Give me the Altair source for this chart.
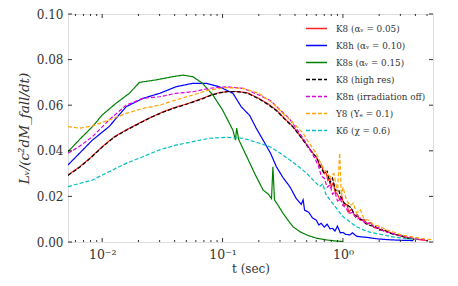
import altair as alt
import pandas as pd

# ---------------- data ----------------
series_names = ["K8 (αᵥ = 0.05)", "K8h (αᵥ = 0.10)", "K8s (αᵥ = 0.15)", "K8 (high res)",
                "K8n (irradiation off)", "Y8 (Yₑ = 0.1)", "K6 (χ = 0.6)"]
series_colors = ["#ff2020", "#0000ff", "#008000", "#000000", "#e000e0", "#ffa500", "#00bfbf"]
series_dash = [[1, 0], [1, 0], [1, 0], [4, 2], [4, 2], [4, 2], [4, 2]]

k8_t = [0.0052, 0.0065, 0.008, 0.01, 0.0125, 0.0156, 0.02, 0.025, 0.0316, 0.04, 0.05, 0.0681, 0.08, 0.094,
        0.11, 0.13, 0.16, 0.2, 0.24, 0.28, 0.33, 0.385, 0.45, 0.52, 0.565, 0.62, 0.64, 0.66, 0.7, 0.72, 0.75,
        0.78, 0.8, 0.83, 0.86, 0.9, 0.944, 0.98, 1.02, 1.08, 1.12, 1.18, 1.25, 1.32, 1.39, 1.5, 1.6, 1.7, 1.8,
        1.95, 2.1, 2.3, 2.5, 2.7, 3.0, 3.4, 3.9, 4.5, 5.1]
k8_v = [0.0294, 0.033, 0.037, 0.0418, 0.046, 0.049, 0.052, 0.0545, 0.057, 0.059, 0.0605, 0.063, 0.0645, 0.0655,
        0.066, 0.066, 0.0655, 0.063, 0.0605, 0.0579, 0.054, 0.0506, 0.046, 0.0415, 0.0389, 0.036, 0.033, 0.034,
        0.030, 0.031, 0.027, 0.028, 0.024, 0.026, 0.022, 0.021, 0.0184, 0.020, 0.016, 0.0165, 0.013, 0.0145,
        0.0115, 0.0120, 0.0096, 0.0098, 0.0078, 0.0085, 0.0064, 0.0060, 0.0052, 0.0048, 0.0040, 0.0034, 0.0026,
        0.0018, 0.0013, 0.0009, 0.0006]

k8hr_t = [0.0052, 0.0065, 0.008, 0.01, 0.0125, 0.0156, 0.02, 0.025, 0.0316, 0.04, 0.05, 0.0681, 0.08, 0.094,
          0.11, 0.13, 0.16, 0.2, 0.24, 0.28, 0.33, 0.385, 0.45, 0.52, 0.565, 0.6, 0.65, 0.7, 0.74, 0.78, 0.82,
          0.87, 0.92, 0.97, 1.03, 1.1, 1.17, 1.25, 1.35, 1.45, 1.55, 1.7, 1.85, 2.0, 2.2, 2.4, 2.7, 3.0, 3.4, 3.9]
k8hr_v = [0.0292, 0.0328, 0.0368, 0.0416, 0.0458, 0.0488, 0.0518, 0.0545, 0.0568, 0.0588, 0.0604, 0.0628,
          0.0643, 0.0654, 0.0659, 0.066, 0.0653, 0.0628, 0.0602, 0.0576, 0.0538, 0.0504, 0.0458, 0.0412, 0.0386,
          0.0375, 0.0330, 0.0300, 0.0310, 0.0260, 0.0280, 0.0225, 0.0230, 0.0190, 0.0170, 0.0160, 0.0150,
          0.0120, 0.0105, 0.0095, 0.0080, 0.0072, 0.0070, 0.0052, 0.0055, 0.0040, 0.0032, 0.0030, 0.0018, 0.0012]

k8h_t = [0.0052, 0.0065, 0.0083, 0.0114, 0.0158, 0.0218, 0.030, 0.041, 0.0567, 0.073, 0.094, 0.122, 0.143,
         0.168, 0.19, 0.217, 0.25, 0.28, 0.32, 0.362, 0.41, 0.45, 0.467, 0.48, 0.52, 0.56, 0.6, 0.63, 0.66, 0.7,
         0.74, 0.78, 0.82, 0.86, 0.9, 0.95, 1.0, 1.05, 1.14, 1.2, 1.3, 1.45, 1.6, 1.79, 2.0, 2.4, 2.9, 3.4, 3.85]
k8h_v = [0.0338, 0.039, 0.0447, 0.0506, 0.0593, 0.063, 0.0652, 0.0681, 0.0696, 0.0696, 0.0681, 0.0652, 0.0593,
         0.0555, 0.050, 0.0447, 0.039, 0.033, 0.028, 0.0243, 0.019, 0.0165, 0.0185, 0.014, 0.013, 0.0105, 0.0096,
         0.0075, 0.0082, 0.0065, 0.0078, 0.0058, 0.0060, 0.0048, 0.0070, 0.0040, 0.0042, 0.0034, 0.0031, 0.0040,
         0.0025, 0.0022, 0.0020, 0.0016, 0.0013, 0.0010, 0.0008, 0.0007, 0.0006]

k8s_t = [0.0052, 0.0065, 0.0083, 0.01, 0.013, 0.0168, 0.0204, 0.028, 0.0385, 0.0467, 0.0567, 0.0681, 0.083, 0.1,
         0.122, 0.128, 0.131, 0.136, 0.157, 0.185, 0.217, 0.24, 0.255, 0.262, 0.27, 0.29, 0.318, 0.35, 0.385,
         0.44, 0.5, 0.6, 0.73, 0.85, 1.0]
k8s_v = [0.0396, 0.045, 0.0506, 0.0557, 0.0608, 0.0652, 0.070, 0.0711, 0.0725, 0.0732, 0.0725, 0.0696, 0.0645,
         0.0579, 0.049, 0.0447, 0.050, 0.045, 0.038, 0.030, 0.0228, 0.021, 0.019, 0.033, 0.0184, 0.016, 0.0126,
         0.0095, 0.0067, 0.0045, 0.0031, 0.0017, 0.0009, 0.0005, 0.0002]

k8n_t = [0.0052, 0.0065, 0.0083, 0.0114, 0.0158, 0.0218, 0.030, 0.041, 0.0567, 0.078, 0.107, 0.148, 0.2, 0.25,
         0.3, 0.36, 0.42, 0.5, 0.58, 0.63, 0.66, 0.7, 0.74, 0.78, 0.82, 0.86, 0.9, 0.95, 1.0, 1.06, 1.12, 1.2,
         1.3, 1.4, 1.55, 1.7, 1.85, 2.0, 2.2, 2.5, 3.0, 3.5, 4.0, 5.0]
k8n_v = [0.0389, 0.042, 0.0462, 0.0535, 0.060, 0.063, 0.0637, 0.0652, 0.0659, 0.0674, 0.0681, 0.0674, 0.0645,
         0.062, 0.058, 0.054, 0.049, 0.043, 0.037, 0.033, 0.029, 0.028, 0.024, 0.025, 0.021, 0.022, 0.018, 0.019,
         0.016, 0.015, 0.0125, 0.013, 0.010, 0.0105, 0.008, 0.0085, 0.006, 0.0065, 0.0045, 0.0040, 0.0028, 0.0022,
         0.0015, 0.0008]

y8_t = [0.0052, 0.0065, 0.0083, 0.0114, 0.0158, 0.0218, 0.030, 0.041, 0.0567, 0.078, 0.107, 0.148, 0.2, 0.26,
        0.318, 0.39, 0.467, 0.53, 0.6, 0.66, 0.72, 0.78, 0.84, 0.9, 0.94, 0.97, 1.0, 1.07, 1.15, 1.22, 1.3,
        1.4, 1.5, 1.65, 1.8, 2.0, 2.3, 2.6, 3.0, 3.5, 4.2, 5.0, 5.5]
y8_v = [0.0506, 0.0499, 0.0509, 0.0535, 0.0564, 0.0586, 0.060, 0.0623, 0.0645, 0.0667, 0.0677, 0.0674, 0.0652,
        0.0610, 0.0564, 0.052, 0.0477, 0.043, 0.039, 0.034, 0.031, 0.0286, 0.030, 0.022, 0.039, 0.020, 0.024,
        0.0184, 0.016, 0.017, 0.0127, 0.014, 0.010, 0.0095, 0.0075, 0.0070, 0.0053, 0.0045, 0.0032, 0.0025,
        0.0018, 0.0012, 0.0010]

k6_t = [0.0052, 0.0083, 0.0114, 0.0158, 0.0218, 0.030, 0.041, 0.0567, 0.078, 0.107, 0.148, 0.203, 0.247, 0.3,
        0.362, 0.43, 0.5, 0.57, 0.64, 0.68, 0.72, 0.78, 0.85, 0.92, 1.0, 1.1, 1.2, 1.3, 1.5, 1.7, 2.0, 2.17, 2.5,
        3.0, 3.5, 4.1]
k6_v = [0.0243, 0.0272, 0.0308, 0.0345, 0.0374, 0.0404, 0.0425, 0.044, 0.0455, 0.0459, 0.0455, 0.0433, 0.0418,
        0.039, 0.036, 0.033, 0.0301, 0.027, 0.0243, 0.0255, 0.021, 0.0184, 0.016, 0.0135, 0.0111, 0.0095, 0.0080,
        0.0067, 0.0052, 0.0042, 0.0035, 0.0031, 0.0024, 0.0018, 0.0014, 0.0012]

x_major = [0.01, 0.1, 1.0]
x_minor = [0.006, 0.007, 0.008, 0.009, 0.02, 0.03, 0.04, 0.05, 0.06, 0.07, 0.08, 0.09,
           0.2, 0.3, 0.4, 0.5, 0.6, 0.7, 0.8, 0.9, 2.0, 3.0, 4.0, 5.0]
y_major = [0.0, 0.02, 0.04, 0.06, 0.08, 0.10]

# -------------- build table --------------
all_t = [k8_t, k8h_t, k8s_t, k8hr_t, k8n_t, y8_t, k6_t]
all_v = [k8_v, k8h_v, k8s_v, k8hr_v, k8n_v, y8_v, k6_v]
rows = []
for i, (name, ts, vs) in enumerate(zip(series_names, all_t, all_v)):
    for j, (t, v) in enumerate(zip(ts, vs)):
        rows.append({"series": name, "order": i, "idx": j, "t": t, "L": v})
df = pd.DataFrame(rows)

W, H = 365, 228
FONT = "DejaVu Serif, Liberation Serif, serif"
xscale = alt.Scale(type="log", domain=[0.0052, 5.6], nice=False)
yscale = alt.Scale(domain=[0, 0.1], nice=False)

legend = alt.Legend(title=None, orient="none", legendX=237, legendY=3,
                    symbolType="stroke", symbolSize=441, symbolStrokeWidth=1.5,
                    labelFont=FONT, labelFontSize=8.8, labelColor="#333",
                    rowPadding=-1.1, labelOffset=8)

lines = alt.Chart(df).mark_line(strokeWidth=1.2, clip=True).encode(
    x=alt.X("t:Q", scale=xscale,
            axis=alt.Axis(values=x_major, ticks=False, grid=False, domain=False,
                          labelExpr="datum.value < 0.05 ? '10⁻²' : (datum.value < 0.5 ? '10⁻¹' : '10⁰')",
                          labelFont=FONT, labelFontSize=12.5, labelColor="#333", labelPadding=6,
                          title="t (sec)", titleFont=FONT, titleFontSize=12, titleFontWeight="normal",
                          titleColor="#333", titlePadding=3)),
    y=alt.Y("L:Q", scale=yscale,
            axis=alt.Axis(values=y_major, format=".2f", ticks=False, grid=False, domain=False,
                          labelFont=FONT, labelFontSize=12, labelColor="#333", labelPadding=5,
                          title="Lᵥ/(c²dM_fall/dt)", titleFont=FONT, titleFontSize=13.5,
                          titleFontWeight="normal", titleFontStyle="italic", titleColor="#333",
                          titlePadding=5)),
    color=alt.Color("series:N", scale=alt.Scale(domain=series_names, range=series_colors), legend=legend),
    strokeDash=alt.StrokeDash("series:N", scale=alt.Scale(domain=series_names, range=series_dash),
                              legend=legend),
    order="idx:Q",
    detail="series:N",
)

xt_major = pd.DataFrame({"t": x_major})
xt_minor = pd.DataFrame({"t": x_minor})
yt_major = pd.DataFrame({"L": y_major})

def xticks(d, length):
    bot = alt.Chart(d).mark_rule(color="black", strokeWidth=0.8).encode(
        x=alt.X("t:Q", scale=xscale), y=alt.value(H), y2=alt.value(H - length))
    top = alt.Chart(d).mark_rule(color="black", strokeWidth=0.8).encode(
        x=alt.X("t:Q", scale=xscale), y=alt.value(0), y2=alt.value(length))
    return bot + top

yl = alt.Chart(yt_major).mark_rule(color="black", strokeWidth=0.8).encode(
    y=alt.Y("L:Q", scale=yscale), x=alt.value(0), x2=alt.value(4))
yr = alt.Chart(yt_major).mark_rule(color="black", strokeWidth=0.8).encode(
    y=alt.Y("L:Q", scale=yscale), x=alt.value(W), x2=alt.value(W - 4))

chart = alt.layer(lines, xticks(xt_major, 4), xticks(xt_minor, 2), yl, yr).resolve_scale(
    x="shared", y="shared"
).properties(
    width=W, height=H,
    autosize=alt.AutoSizeParams(type="none"),
    padding={"left": 60, "top": 6, "right": 17, "bottom": 36},
).configure_view(stroke="black", strokeWidth=1.2).configure(background="white", font=FONT)

chart.save("out.html", embed_options={"renderer": "svg", "actions": False})
